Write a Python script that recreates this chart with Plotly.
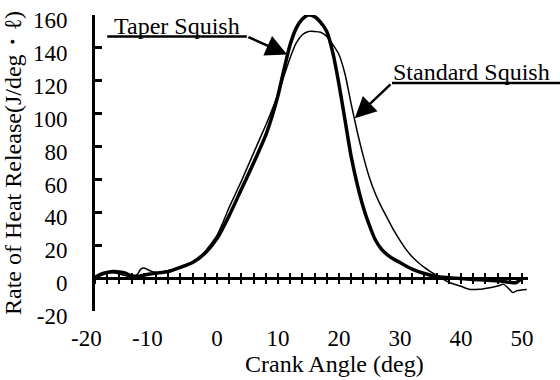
import plotly.graph_objects as go

# ---- data ----
x_taper = [-20, -19, -18, -17, -16, -15, -14, -13, -12, -11, -10, -8, -6, -4, -2, 0, 2, 4, 6, 8, 9,
           10, 11, 12, 13, 14, 15, 16, 17, 18, 19, 20, 21, 22, 23, 24, 25, 26, 27, 28, 29, 30,
           32, 34, 36, 38, 40, 42, 44, 46, 48, 49, 50]
y_taper = [0.5, 2.5, 3.5, 4, 3.8, 3, 1.3, 1, 1.8, 2.5, 3, 4, 6.5, 9.5, 15, 24, 38, 54, 70, 87, 98,
           111, 127, 142, 152, 157.5, 160, 159, 155.5, 150, 137, 118, 96, 74, 57, 43, 32, 23, 17.5, 14, 11.5, 9.5,
           5.5, 2.8, 1, 0.3, -0.3, -0.8, -1.2, -1.6, -2.5, -2.8, 0]

x_standard = [-20, -19, -18, -17, -16, -15, -14, -13, -12.5, -12, -11.5, -11, -10, -8, -6, -4, -2, 0,
              1, 2, 3, 4, 5, 6, 7, 8, 9, 10, 11, 12, 13, 14, 15, 16, 17, 18, 19, 20, 21, 22, 23, 24,
              25, 26, 27, 28, 29, 30, 31, 32, 33, 34, 35, 36, 37, 38, 40, 41.5, 43, 44.75, 46, 47,
              48, 48.5, 49.2, 50.8]
y_standard = [0.5, 1.5, 3, 3.2, 2.5, 1.5, 0.5, 2.5, 5.5, 6.2, 5.5, 4.5, 3.5, 4.5, 7, 10, 16, 26,
              34, 43, 51, 59, 67.5, 76, 84.5, 93, 102, 112, 123, 134, 143, 148, 150, 150, 149.5, 147, 142, 136, 124, 106, 89, 74,
              61, 51, 43, 36, 29, 23, 17.5, 13, 9.5, 6.5, 4, 1.8, -0.5, -2.5, -5, -6.9, -6.8, -5.8, -4.8, -3.8,
              -7, -8.8, -7.6, -6.9]

NB = "\u00a0"
x_ticks = [-20, -10, 0, 10, 20, 30, 40, 50]
x_tick_text = ["-20" + NB * 3, "-10" + NB * 3, "0", "10", "20", "30", "40", "50"]
y_ticks = [-20, 0, 20, 40, 60, 80, 100, 120, 140, 160]
y_tick_text = ["-20", "0", "20", "40", "60", "80", "100", "120", "140", "160"]
zero_ticks = list(range(-20, 51, 2))

label_taper = "Taper Squish"
label_standard = "Standard Squish"
x_title = "Crank Angle (deg)"
y_title = "Rate of Heat Release(J/deg・ℓ)"

XMIN, XMAX = -20, 51
YMIN, YMAX = -20, 160
FONT = "Liberation Serif"
FS = 24


def px(x):
    return (x - XMIN) / (XMAX - XMIN)


def py(y):
    return (y - YMIN) / (YMAX - YMIN)


fig = go.Figure()
fig.add_trace(go.Scatter(x=x_standard, y=y_standard, mode="lines",
                         line=dict(color="black", width=1.5, shape="spline", smoothing=0.6),
                         showlegend=False, hoverinfo="skip"))
fig.add_trace(go.Scatter(x=x_taper, y=y_taper, mode="lines",
                         line=dict(color="black", width=3.5, shape="spline", smoothing=0.6),
                         showlegend=False, hoverinfo="skip"))
# carrier traces for the zero-line axes
fig.add_trace(go.Scatter(x=[None], y=[None], xaxis="x2", yaxis="y", showlegend=False, hoverinfo="skip"))
fig.add_trace(go.Scatter(x=[None], y=[None], xaxis="x3", yaxis="y", showlegend=False, hoverinfo="skip"))

zero_axis = dict(overlaying="x", anchor="free", position=py(0), range=[XMIN, XMAX],
                 tickmode="array", tickvals=zero_ticks, ticklen=4, tickwidth=2, tickcolor="black",
                 showline=True, linewidth=3, linecolor="black", showticklabels=False,
                 showgrid=False, zeroline=False, automargin=False)

fig.update_layout(
    width=560, height=380,
    margin=dict(l=95, r=32, t=15, b=69),
    paper_bgcolor="white", plot_bgcolor="white",
    font=dict(family=FONT, size=FS, color="black"),
    xaxis=dict(range=[XMIN, XMAX], tickmode="array", tickvals=x_ticks, ticktext=x_tick_text, ticks="",
               showline=False, showgrid=False, zeroline=False, automargin=False,
               tickfont=dict(family=FONT, size=23), ticklabelstandoff=11),
    xaxis2=dict(zero_axis, ticks="inside"),
    xaxis3=dict(zero_axis, ticks="outside"),
    yaxis=dict(range=[YMIN, YMAX], tickmode="array", tickvals=y_ticks, ticktext=y_tick_text,
               ticks="inside", ticklen=7, automargin=False,
               tickwidth=2.5, tickcolor="black", showline=True, linewidth=3, linecolor="black",
               showgrid=False, zeroline=False, tickfont=dict(family=FONT, size=23),
               ticklabelstandoff=20, ticklabelshift=5, ticklabeloverflow="allow",
               title=dict(text=y_title, font=dict(family=FONT, size=FS), standoff=8)),
    shapes=[
        dict(type="line", xref="paper", yref="paper", x0=px(-18.0), x1=px(4.9), y0=py(147.0), y1=py(147.0),
             line=dict(color="black", width=2.5)),
        dict(type="line", xref="paper", yref="paper", x0=px(28.7), x1=px(56.5), y0=py(118.7), y1=py(118.7),
             line=dict(color="black", width=2.5)),
    ],
    annotations=[
        dict(x=px(19.2), y=-0.179, xref="paper", yref="paper", text=x_title, showarrow=False,
             xanchor="center", yanchor="middle", font=dict(family=FONT, size=FS, color="black")),
        dict(x=-6.5, y=153.6, xref="x", yref="y", text=label_taper, showarrow=False,
             font=dict(family=FONT, size=FS, color="black")),
        dict(x=41.8, y=125.2, xref="x", yref="y", text=label_standard, showarrow=False,
             font=dict(family=FONT, size=FS, color="black")),
        dict(x=11.5, y=136, xref="x", yref="y", ax=4.9, ay=147.0, axref="x", ayref="y", text="",
             showarrow=True, arrowhead=2, arrowsize=1.7, arrowwidth=2.5, arrowcolor="black",
             standoff=0, startstandoff=0),
        dict(x=22.6, y=97.2, xref="x", yref="y", ax=28.7, ay=118.7, axref="x", ayref="y", text="",
             showarrow=True, arrowhead=2, arrowsize=1.7, arrowwidth=2.5, arrowcolor="black",
             standoff=0, startstandoff=0),
    ],
)

fig.write_html("out.html")
